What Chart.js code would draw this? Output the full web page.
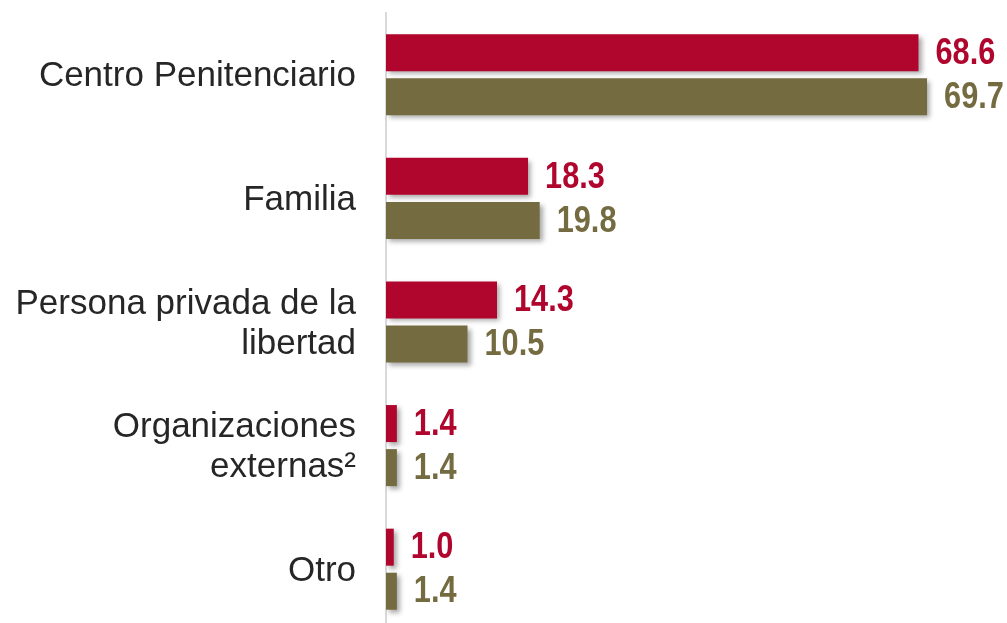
<!DOCTYPE html>
<html>
<head>
<meta charset="utf-8">
<script src="https://cdn.jsdelivr.net/npm/chart.js@4/dist/chart.umd.min.js"></script>
<style>
  html, body { margin: 0; padding: 0; background: #fff; overflow: hidden; }
  #wrap { width: 1007px; height: 631px; }
</style>
</head>
<body>
<div id="wrap"><canvas id="chart" width="1007" height="631"></canvas></div>
<script>
// Categories and values
const categories = [
  'Centro Penitenciario',
  'Familia',
  ['Persona privada de la', 'libertad'],
  ['Organizaciones', 'externas²'],
  'Otro'
];
const seriesRed = [68.6, 18.3, 14.3, 1.4, 1.0];
const seriesOlive = [69.7, 19.8, 10.5, 1.4, 1.4];

const RED = '#B0062E';
const OLIVE = '#746B41';

// Drop shadow behind the bars
const barShadow = {
  id: 'barShadow',
  beforeDatasetsDraw(chart) {
    const ctx = chart.ctx;
    ctx.save();
    ctx.shadowColor = 'rgba(0, 0, 0, 0.35)';
    ctx.shadowBlur = 5;
    ctx.shadowOffsetX = 3;
    ctx.shadowOffsetY = 3;
  },
  afterDatasetsDraw(chart) {
    chart.ctx.restore();
  }
};

// Value labels at the end of each bar (condensed bold, squeezed horizontally)
const valueLabels = {
  id: 'valueLabels',
  afterDatasetsDraw(chart) {
    const ctx = chart.ctx;
    chart.data.datasets.forEach((ds, i) => {
      const meta = chart.getDatasetMeta(i);
      meta.data.forEach((bar, j) => {
        ctx.save();
        ctx.font = 'bold 37px "Liberation Sans", Arial, sans-serif';
        ctx.textAlign = 'left';
        ctx.textBaseline = 'middle';
        ctx.fillStyle = ds.backgroundColor;
        ctx.translate(bar.x + 17, bar.y + 1);
        ctx.scale(0.83, 1);
        ctx.fillText(ds.data[j].toFixed(1), 0, 0);
        ctx.restore();
      });
    });
  }
};

new Chart(document.getElementById('chart'), {
  type: 'bar',
  data: {
    labels: categories,
    datasets: [
      {
        label: 'Serie 1',
        data: seriesRed,
        backgroundColor: RED,
        categoryPercentage: 0.713,
        barPercentage: 0.84
      },
      {
        label: 'Serie 2',
        data: seriesOlive,
        backgroundColor: OLIVE,
        categoryPercentage: 0.713,
        barPercentage: 0.84
      }
    ]
  },
  options: {
    indexAxis: 'y',
    responsive: false,
    devicePixelRatio: 1,
    animation: false,
    layout: { padding: { top: 13, right: 0, bottom: 0, left: 0 } },
    scales: {
      x: {
        display: false,
        min: 0,
        max: 80
      },
      y: {
        grid: { display: false },
        border: { display: true, color: '#D9D9D9', width: 2 },
        ticks: {
          color: '#262626',
          padding: 22,
          labelOffset: 2,
          font: { family: '"Liberation Sans", Arial, sans-serif', size: 35, lineHeight: 1.15 }
        },
        afterFit(scale) {
          scale.width = 386;
          scale.paddingTop = 0;
          scale.paddingBottom = 0;
        }
      }
    },
    plugins: {
      legend: { display: false },
      tooltip: { enabled: false }
    }
  },
  plugins: [barShadow, valueLabels]
});
</script>
</body>
</html>
